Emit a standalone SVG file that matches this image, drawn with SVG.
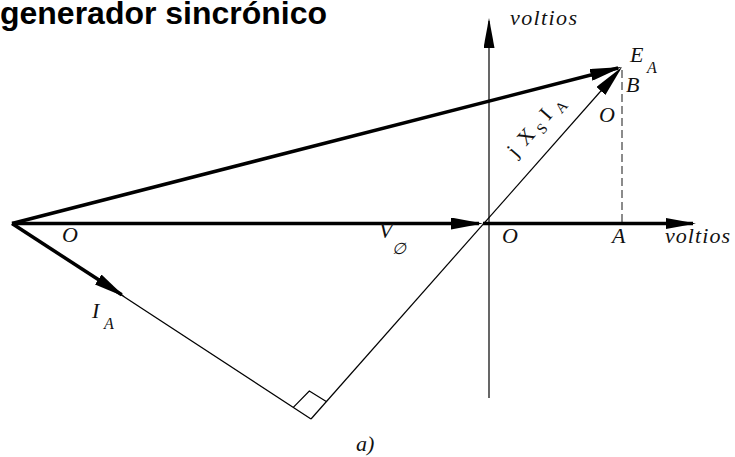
<svg xmlns="http://www.w3.org/2000/svg" width="735" height="457" viewBox="0 0 735 457">
<style>
.thick{stroke:#000;stroke-width:3.5;fill:none}
.thin{stroke:#000;stroke-width:1.2;fill:none}
.dash{stroke:#666;stroke-width:1.5;stroke-dasharray:8,4;fill:none}
.lbl{font-family:"Liberation Serif","DejaVu Serif",serif;font-style:italic;font-size:22px;fill:#111}
.sub{font-family:"Liberation Serif","DejaVu Serif",serif;font-style:italic;font-size:16px;fill:#111}
.rot{font-family:"Liberation Serif","DejaVu Serif",serif;font-size:21px;fill:#111}
.rsub{font-family:"Liberation Serif","DejaVu Serif",serif;font-size:15px;fill:#111}
.title{font-family:"Liberation Sans",Arial,sans-serif;font-weight:bold;font-size:31px;fill:#000}
</style>
<defs>
<marker id="ah" markerUnits="userSpaceOnUse" markerWidth="32" markerHeight="12" refX="28" refY="6" orient="auto">
<path d="M0,0 L32,6 L0,12 Z" fill="#000"/>
</marker>
<marker id="ahv" markerUnits="userSpaceOnUse" markerWidth="30" markerHeight="11" refX="27" refY="5.5" orient="auto">
<path d="M0,0 L30,5.5 L0,11 Z" fill="#000"/>
</marker>
</defs>
<g id="title"><text class="title" x="0" y="24" textLength="327" lengthAdjust="spacingAndGlyphs">generador sincrónico</text></g>
<g id="connectors">
<line class="thin" x1="489" y1="398" x2="489" y2="21" marker-end="url(#ahv)"/>
<line class="dash" x1="622" y1="70" x2="622" y2="223.5"/>
<line class="thin" x1="12" y1="223.5" x2="311" y2="419"/>
<line class="thin" x1="311" y1="419" x2="619.4" y2="70" marker-end="url(#ah)"/>
<polyline class="thin" points="293.3,407.3 309.3,391 326.7,401.7"/>
<line class="thick" x1="12" y1="223.5" x2="479" y2="223.5" marker-end="url(#ah)"/>
<line class="thick" x1="483" y1="223.5" x2="693" y2="223.5" marker-end="url(#ahv)"/>
<line class="thick" x1="12" y1="223.5" x2="618.1" y2="68" marker-end="url(#ah)"/>
<line class="thick" x1="12" y1="223.5" x2="121.7" y2="294.8" marker-end="url(#ah)"/>
</g>
<g id="labels">
<text class="lbl" x="510" y="25" textLength="67" lengthAdjust="spacing">voltios</text>
<text class="lbl" x="665" y="243" textLength="65" lengthAdjust="spacing">voltios</text>
<text class="lbl" x="630" y="62">E</text><text class="sub" x="647" y="73">A</text>
<text class="lbl" x="626" y="92">B</text>
<text class="lbl" x="599" y="122">O</text>
<text class="lbl" x="62" y="242">O</text>
<text class="lbl" x="502" y="243">O</text>
<text class="lbl" x="612" y="243">A</text>
<text class="lbl" x="379" y="238">V</text><text class="sub" x="392" y="254">∅</text>
<text class="lbl" x="92" y="318">I</text><text class="sub" x="104" y="329">A</text>
<text class="lbl" x="356" y="451">a)</text>
<g transform="translate(516,158) rotate(-48.5)">
<text class="rot" x="0" y="0">j</text>
<text class="rot" x="15" y="0">X</text>
<text class="rsub" x="35" y="5">S</text>
<text class="rot" x="49" y="0">I</text>
<text class="rsub" x="63" y="5">A</text>
</g>
</g>
</svg>
